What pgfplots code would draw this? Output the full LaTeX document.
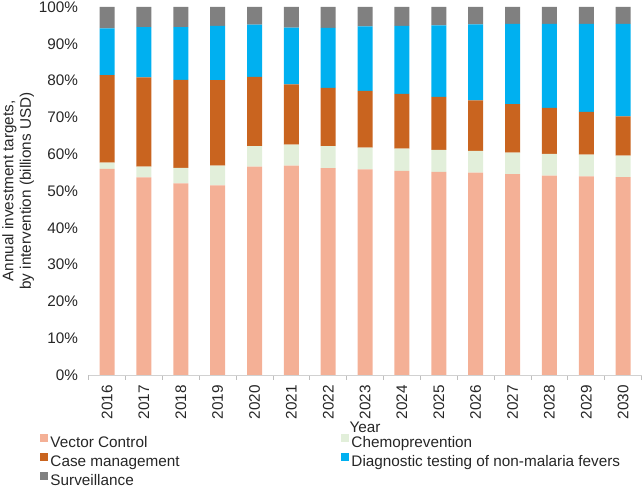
\documentclass[border=0pt]{standalone}
\usepackage{fontspec}
\setmainfont{Liberation Sans}
\usepackage{pgfplots}
\usepackage{pgfplotstable}
\pgfplotsset{compat=1.18}

\definecolor{vc}{HTML}{F4B096}
\definecolor{ch}{HTML}{E2EFDA}
\definecolor{cm}{HTML}{C9641F}
\definecolor{dg}{HTML}{00B0F0}
\definecolor{sv}{HTML}{808080}
\definecolor{txt}{HTML}{262626}

\newcommand\lbl{\fontsize{15.3pt}{17.5pt}\selectfont}

% shares of annual investment targets, per cent
\pgfplotstableread{
x year vc ch cm dg sv
0  2016 56.0 1.7 23.8 12.7 5.8
1  2017 53.7 2.9 24.3 13.6 5.5
2  2018 52.1 4.2 23.9 14.3 5.5
3  2019 51.5 5.4 23.2 14.8 5.1
4  2020 56.6 5.6 18.8 14.2 4.8
5  2021 56.9 5.7 16.4 15.4 5.6
6  2022 56.2 6.0 15.8 16.3 5.7
7  2023 55.9 5.9 15.4 17.5 5.3
8  2024 55.5 6.0 14.9 18.5 5.1
9  2025 55.2 6.0 14.4 19.4 5.0
10 2026 55.0 5.9 13.7 20.7 4.7
11 2027 54.6 5.8 13.2 21.8 4.6
12 2028 54.2 5.9 12.5 22.8 4.6
13 2029 54.0 5.9 11.6 23.9 4.6
14 2030 53.8 5.8 10.7 25.1 4.6
}\shares

\begin{document}
\lbl
\begin{tikzpicture}
\useasboundingbox (0,0) rectangle (642pt,487pt);
\begin{axis}[
  at={(88.6pt,112pt)}, anchor=south west,
  scale only axis, width=553pt, height=368pt,
  ybar stacked, bar width=15pt,
  xmin=-0.5, xmax=14.5, ymin=0, ymax=100,
  axis lines*=left,
  x axis line style={draw=black!18, line width=0.8pt},
  y axis line style={draw=none},
  xtick=data,
  xticklabels from table={\shares}{year},
  minor xtick={-0.5,0.5,...,14.5},
  major tick length=0pt, minor tick length=4.5pt,
  tick align=outside,
  minor tick style={draw=black!25, line width=0.8pt},
  ytick={0,10,...,100},
  yticklabels={0\%,10\%,20\%,30\%,40\%,50\%,60\%,70\%,80\%,90\%,100\%},
  /pgf/number format/assume math mode=true,
  xticklabel style={font=\lbl, text=txt, rotate=90, anchor=east, inner ysep=0pt, inner xsep=10pt},
  yticklabel style={font=\lbl, text=txt, anchor=east, inner ysep=0pt, inner xsep=10.5pt},
  xlabel={Year},
  ylabel={Annual investment targets,\\by intervention (billions USD)},
  every axis x label/.style={at={(axis description cs:0.5,-0.1280)}, anchor=north,
    inner sep=0pt, font=\lbl, text=txt},
  every axis y label/.style={at={(axis description cs:-0.1566,0.5)}, rotate=90,
    anchor=north, align=center, inner sep=0pt, font=\lbl, text=txt},
  every axis plot post/.append style={
    legend image code/.code={\fill[##1,draw=none] (0pt,2pt) rectangle (8pt,10pt);}},
  legend columns=2,
  legend cell align=left,
  legend style={at={(axis description cs:-0.0879,-0.1600)}, anchor=north west,
    draw=none, fill=none, inner sep=0pt, outer sep=0pt, font=\lbl, text=txt,
    nodes={inner sep=0pt, text height=11pt, text depth=3.3pt},
    row sep=1.8pt,
    /tikz/every odd column/.append style={column sep=2.5pt},
    /tikz/every even column/.append style={column sep=161.2pt}},
]
\addplot[fill=vc, draw=none] table[x=x, y=vc] {\shares};
\addplot[fill=ch, draw=none] table[x=x, y=ch] {\shares};
\addplot[fill=cm, draw=none] table[x=x, y=cm] {\shares};
\addplot[fill=dg, draw=none] table[x=x, y=dg] {\shares};
\addplot[fill=sv, draw=none] table[x=x, y=sv] {\shares};
\legend{Vector Control, Chemoprevention, Case management,
  Diagnostic testing of non-malaria fevers, Surveillance}
\end{axis}
\end{tikzpicture}
\end{document}
